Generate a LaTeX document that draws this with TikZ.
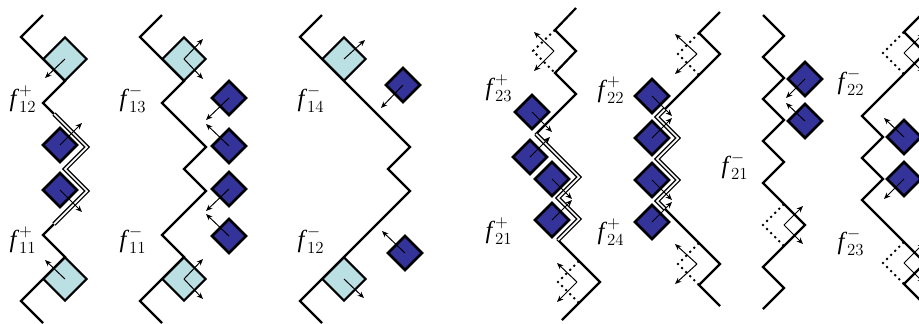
\documentclass[tikz,border=0pt]{standalone}
\usepackage{fontspec}
\setmainfont{Liberation Serif}
\usetikzlibrary{shapes.geometric,arrows.meta}
\definecolor{cellpale}{RGB}{187,224,227}
\definecolor{celldark}{RGB}{51,51,153}

\begin{document}
\begin{tikzpicture}[x=0.3mm, y=-0.3mm,
  chain/.style={line width=1.9pt, line join=miter},
  hug/.style={line width=1.1pt, double, double distance=1.5pt, line join=miter},
  flip/.style={line width=1.7pt, dash pattern=on 1.7pt off 3.2pt},
  pale/.style={diamond, draw, fill=cellpale, line width=1.8pt, minimum size=13.2mm, inner sep=0pt},
  dark/.style={diamond, draw, fill=celldark, line width=2.2pt, minimum size=10.5mm, inner sep=0pt},
  hop/.style={line width=0.85pt, -{Stealth[length=5.5pt,width=4.5pt]}},
  lab/.style={font=\fontsize{21}{25}\selectfont, inner sep=0pt}]
  \useasboundingbox (0,0) rectangle (919,323);
  \clip (0,0) rectangle (919,323);

  % Panel 1: f12+ / f11+
  \draw[chain] (43,15) -- (21,37) -- (65,81) -- (43,103) -- (87,147) -- (65,169) -- (87,191) -- (43,235) -- (65,257) -- (21,301) -- (43,323);
  \draw[hug] (54,114) -- (87,147) -- (65,169) -- (87,191) -- (54,224);
  \node[pale] (a1) at (65,59) {};
  \node[pale] (a2) at (65,279) {};
  \node[dark] (a3) at (60,145) {};
  \node[dark] (a4) at (60,190) {};
  \draw[hop] (a1.center) -- ++(-20,19);
  \draw[hop] (a2.center) -- ++(-20,-19);
  \draw[hop] (a3.center) -- ++(22,-22);
  \draw[hop] (a4.center) -- ++(22,22);
  \node[lab] (f12p) at (23,99) {${\mathit{f}\mkern2mu}^{+}_{12}$};
  \node[lab] (f11p) at (23,240) {${\mathit{f}\mkern2mu}^{+}_{11}$};

  % Panel 2: f13- / f11-
  \draw[chain] (162,15) -- (140,37) -- (184,81) -- (162,103) -- (206,147) -- (184,169) -- (206,191) -- (162,235) -- (184,257) -- (140,301) -- (162,323);
  \node[pale] (b1) at (184,59) {};
  \node[pale] (b2) at (184,279) {};
  \foreach \p in {b1,b2} {
    \draw[hop] (\p.center) -- ++(19,-20);
    \draw[hop] (\p.center) -- ++(19,20);
  }
  \foreach \y/\s [count=\i] in {98/1,146/-1,189/1,236/-1} {
    \node[dark] (bd\i) at (229,\y) {};
    \draw[hop] (bd\i.center) -- ++(-23,22*\s);
  }
  \node[lab] (f13m) at (133,99) {${\mathit{f}\mkern2mu}^{-}_{13}$};
  \node[lab] (f11m) at (133,240) {${\mathit{f}\mkern2mu}^{-}_{11}$};

  % Panel 3: f14- / f12-
  \draw[chain] (322,15) -- (300,37) -- (410,147) -- (388,169) -- (410,191) -- (300,301) -- (322,323);
  \node[pale] (c1) at (344,59) {};
  \node[pale] (c2) at (344,279) {};
  \node[dark] (c3) at (403,85) {};
  \node[dark] (c4) at (405,253) {};
  \draw[hop] (c1.center) -- ++(21,-19);
  \draw[hop] (c2.center) -- ++(20,19);
  \draw[hop] (c3.center) -- ++(-22,23);
  \draw[hop] (c4.center) -- ++(-23,-22);
  \node[lab] (f14m) at (311,99) {${\mathit{f}\mkern2mu}^{-}_{14}$};
  \node[lab] (f12m) at (311,240) {${\mathit{f}\mkern2mu}^{-}_{12}$};

  % Panel 4: f23+ / f21+
  \draw[chain] (576,8) -- (555,30) -- (576,51) -- (555,73) -- (576,94) -- (536,134) -- (579,177) -- (558,198) -- (579,219) -- (558,240) -- (600,282) -- (562,320);
  \draw[hug] (536,134) -- (579,177) -- (558,198) -- (579,219) -- (558,240);
  \draw[flip] (555,30) -- (533,51) -- (555,73);
  \draw[flip] (579,261) -- (558,282) -- (579,303);
  \coordinate (d0) at (554,51);
  \coordinate (d9) at (577,282);
  \foreach \p in {d0,d9} {
    \draw[hop] (\p) -- ++(-20,-19);
    \draw[hop] (\p) -- ++(-20,20);
  }
  \foreach \x/\y/\s [count=\i] in {532/112/1,530/157/-1,552/179/1,552/220/-1} {
    \node[dark] (dd\i) at (\x,\y) {};
    \draw[hop] (dd\i.center) -- ++(20,20*\s);
  }
  \node[lab] (f23p) at (499,88) {${\mathit{f}\mkern2mu}^{+}_{23}$};
  \node[lab] (f21p) at (499,231) {${\mathit{f}\mkern2mu}^{+}_{21}$};

  % Panel 5: f22+ / f24+
  \draw[chain] (720,12) -- (699,33) -- (720,54) -- (657,117) -- (678,138) -- (657,159) -- (678,180) -- (657,201) -- (720,264) -- (699,285) -- (720,306);
  \draw[hug] (665,109) -- (657,117) -- (678,138) -- (657,159) -- (678,180) -- (657,201) -- (665,209);
  \draw[flip] (699,33) -- (678,54) -- (699,75);
  \draw[flip] (699,243) -- (678,264) -- (699,285);
  \coordinate (e0) at (697,54);
  \coordinate (e9) at (697,264);
  \foreach \p in {e0,e9} {
    \draw[hop] (\p) -- ++(-22,-20);
    \draw[hop] (\p) -- ++(-22,20);
  }
  \foreach \y/\s [count=\i] in {96/1,138/-1,180/1,222/-1} {
    \node[dark] (ed\i) at (652,\y) {};
    \draw[hop] (ed\i.center) -- ++(20,20*\s);
  }
  \node[lab] (f22p) at (611,90) {${\mathit{f}\mkern2mu}^{+}_{22}$};
  \node[lab] (f24p) at (611,232) {${\mathit{f}\mkern2mu}^{+}_{24}$};

  % Panel 6: f21-
  \draw[chain] (763,15) -- (784,36) -- (763,57) -- (784,78) -- (763,99) -- (784,120) -- (763,141) -- (784,162) -- (763,183) -- (805,225) -- (763,267) -- (784,288) -- (763,309);
  \draw[flip] (784,204) -- (763,225) -- (784,246);
  \coordinate (g0) at (784,225);
  \draw[hop] (g0) -- ++(19,-19);
  \draw[hop] (g0) -- ++(19,19);
  \node[dark] (g1) at (805,79) {};
  \node[dark] (g2) at (805,121) {};
  \draw[hop] (g1.center) -- ++(-19,19);
  \draw[hop] (g2.center) -- ++(-19,-18);
  \node[lab] (f21m) at (735,166) {${\mathit{f}\mkern2mu}^{-}_{21}$};

  % Panel 7: f22- / f23- (cut by the frame)
  \draw[chain] (930,6) -- (904,32) -- (925,53) -- (862,116) -- (883,137) -- (862,158) -- (883,179) -- (862,200) -- (925,263) -- (904,284) -- (925,305) -- (930,310);
  \draw[flip] (904,32) -- (883,53) -- (904,74);
  \draw[flip] (904,242) -- (883,263) -- (904,284);
  \coordinate (h0) at (904,53);
  \coordinate (h9) at (904,263);
  \foreach \p in {h0,h9} {
    \draw[hop] (\p) -- ++(20,-20);
    \draw[hop] (\p) -- ++(20,20);
  }
  \node[dark] (h1) at (904,137) {};
  \node[dark] (h2) at (904,179) {};
  \draw[hop] (h1.center) -- ++(-20,-19);
  \draw[hop] (h2.center) -- ++(-20,20);
  \node[lab] (f22m) at (851,82) {${\mathit{f}\mkern2mu}^{-}_{22}$};
  \node[lab] (f23m) at (851,242) {${\mathit{f}\mkern2mu}^{-}_{23}$};
\end{tikzpicture}
\end{document}
